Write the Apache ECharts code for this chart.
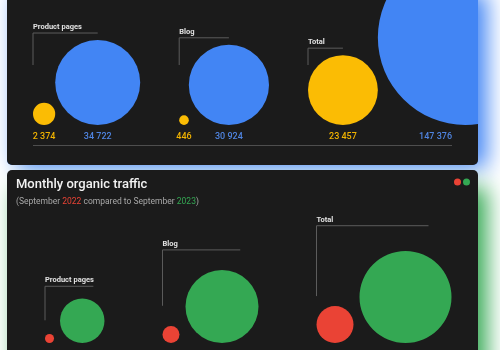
<!DOCTYPE html>
<html><head><meta charset="utf-8">
<script src="https://cdn.jsdelivr.net/npm/echarts@6/dist/echarts.min.js"></script>
<style>html,body{margin:0;padding:0;background:#fff}#c{width:500px;height:350px}</style>
</head><body><div id="c"></div>
<script>
// ---- data ----
const categories = ['Product pages', 'Blog', 'Total'];
const topYellow = [2374, 446, 23457];
const topBlue = [34722, 30924, 147376];
const traffic2022 = [390, 1390, 6580];
const traffic2023 = [9520, 25640, 40700];
const yearLabels = ['September 2022', 'September 2023'];

// ---- layout constants ----
const W = 471;
const TOP_H = 165, TOP_BASE = 125;
const BOT_H = 180, BOT_BASE = 173;
const K = 0.228;
const rad = v => K * Math.sqrt(v);
const fmt = v => String(v).replace(/\B(?=(\d{3})+(?!\d))/g, ' ');

function layout(a, b, start, inner, outer) {
  const out = []; let x = start;
  for (let i = 0; i < a.length; i++) {
    const ra = rad(a[i]), rb = rad(b[i]);
    const ca = x + ra, cb = x + 2 * ra + inner + rb;
    out.push([x, ca, ra, cb, rb, a[i], b[i], i]);
    x = cb + rb + outer;
  }
  return out;
}
const topL = layout(topYellow, topBlue, 26, 0, 39);
const botL = layout(traffic2022, traffic2023, 38, 6, 58);

const C = { yellow: '#fbbc04', blue: '#4285f4', red: '#ea4335', green: '#34a853' };

function circleSeries(name, color, L, gi, base, which) {
  return {
    type: 'custom', name, xAxisIndex: gi, yAxisIndex: gi, clip: true,
    itemStyle: { color },
    data: L.map(d => which === 0 ? [d[1], d[2], d[5]] : [d[3], d[4], d[6]]),
    renderItem(params, api) {
      const p = api.coord([api.value(0), base]);
      const r = api.size([api.value(1), 0])[0];
      return { type: 'circle', shape: { cx: p[0], cy: p[1] - r, r }, style: { fill: color } };
    }
  };
}

const lineCol = '#5c5c5c';
function labelText(txt, p) {
  return { type: 'text', style: { text: txt, x: p[0], y: p[1] - 2, fill: '#e2e2e2', fontSize: 7.5, fontWeight: 'bold', fontFamily: 'Roboto', align: 'left', verticalAlign: 'bottom' } };
}

const topAnno = {
  type: 'custom', xAxisIndex: 0, yAxisIndex: 0, clip: false, silent: true,
  data: topL,
  renderItem(params, api) {
    const start = api.value(0), ca = api.value(1), ra = api.value(2), cb = api.value(3), rb = api.value(4);
    const i = api.value(7);
    const useA = (TOP_BASE - 2 * rb) < 0;
    const ax = useA ? ca : cb, atop = TOP_BASE - 2 * (useA ? ra : rb);
    const hy = atop - 7, vEnd = TOP_BASE - 60;
    const pts = [[start, vEnd], [start, hy], [ax, hy]].map(q => api.coord(q));
    const ch = [
      { type: 'polyline', shape: { points: pts }, style: { stroke: lineCol, lineWidth: 1, fill: null } },
      labelText(categories[i], pts[1])
    ];
    const lineEnd = W - 26;
    const pa = api.coord([ca, TOP_BASE + 12]);
    ch.push({ type: 'text', style: { text: fmt(api.value(5)), x: pa[0], y: pa[1], fill: '#f1b300', fontSize: 9, fontWeight: 500, fontFamily: 'Roboto', align: 'center', verticalAlign: 'middle' } });
    const clampB = cb > lineEnd - 20;
    const pb = api.coord([clampB ? lineEnd : cb, TOP_BASE + 12]);
    ch.push({ type: 'text', style: { text: fmt(api.value(6)), x: pb[0], y: pb[1], fill: '#4f84e0', fontSize: 9, fontWeight: 500, fontFamily: 'Roboto', align: clampB ? 'right' : 'center', verticalAlign: 'middle' } });
    if (i === 0) {
      const l0 = api.coord([26, TOP_BASE + 20]), l1 = api.coord([lineEnd, TOP_BASE + 20]);
      ch.push({ type: 'line', shape: { x1: l0[0], y1: l0[1] + 0.5, x2: l1[0], y2: l1[1] + 0.5 }, style: { stroke: '#4e4e4e', lineWidth: 1 } });
    }
    return { type: 'group', children: ch };
  }
};

const botAnno = {
  type: 'custom', xAxisIndex: 1, yAxisIndex: 1, clip: false, silent: true,
  data: botL,
  renderItem(params, api) {
    const start = api.value(0), cb = api.value(3), rb = api.value(4);
    const i = api.value(7);
    const hy = (BOT_BASE - 2 * rb) - 0.55 * rb;
    const vEnd = hy + 0.6 * (BOT_BASE - hy);
    const pts = [[start, vEnd], [start, hy], [cb + rb / 2, hy]].map(q => api.coord(q));
    return { type: 'group', children: [
      { type: 'polyline', shape: { points: pts }, style: { stroke: lineCol, lineWidth: 1, fill: null } },
      labelText(categories[i], pts[1])
    ] };
  }
};

const chart = echarts.init(document.getElementById('c'), null, { renderer: 'canvas' });
chart.setOption({
  animation: false,
  backgroundColor: '#ffffff',
  graphic: [
    // glows
    { type: 'rect', z: 0, shape: { x: 7, y: -10, width: W, height: TOP_H + 10, r: 5 },
      style: { fill: '#4285f4', shadowColor: 'rgba(66,133,244,1)', shadowBlur: 22, shadowOffsetX: 9, shadowOffsetY: 3 } },
    { type: 'rect', z: 0, shape: { x: 7, y: 187, width: W, height: 200, r: 5 },
      style: { fill: '#34a853', shadowColor: 'rgba(52,168,83,1)', shadowBlur: 22, shadowOffsetX: 9, shadowOffsetY: 0 } },
    // panels
    { type: 'rect', z: 1, shape: { x: 7, y: -10, width: W, height: TOP_H + 10, r: 5 }, style: { fill: '#1b1b1b' } },
    { type: 'rect', z: 1, shape: { x: 7, y: 170, width: W, height: 200, r: 5 }, style: { fill: '#1b1b1b' } }
  ],
  title: [
    { text: 'Monthly organic traffic', left: 16, top: 178, padding: 0,
      textStyle: { color: '#f2f2f2', fontSize: 13, fontWeight: 500, fontFamily: 'Roboto' } },
    { text: '(September {r|2022} compared to September {g|2023})', left: 16, top: 197.5, padding: 0,
      textStyle: { color: '#a8a8a8', fontSize: 8.5, fontWeight: 'normal', fontFamily: 'Roboto',
        rich: { r: { color: C.red, fontSize: 8.5, fontFamily: 'Roboto' }, g: { color: C.green, fontSize: 8.5, fontFamily: 'Roboto' } } } }
  ],
  legend: { data: yearLabels, right: 30, top: 178.5, padding: 0, itemWidth: 7, itemHeight: 7, itemGap: 2,
    icon: 'circle', formatter: () => '', textStyle: { fontSize: 1 } },
  grid: [
    { left: 7, top: 0, width: W, height: TOP_H },
    { left: 7, top: 170, width: W, height: BOT_H }
  ],
  xAxis: [
    { gridIndex: 0, type: 'value', min: 0, max: W, show: false },
    { gridIndex: 1, type: 'value', min: 0, max: W, show: false }
  ],
  yAxis: [
    { gridIndex: 0, type: 'value', min: 0, max: TOP_H, inverse: true, show: false },
    { gridIndex: 1, type: 'value', min: 0, max: BOT_H, inverse: true, show: false }
  ],
  series: [
    circleSeries('Series A', C.yellow, topL, 0, TOP_BASE, 0),
    circleSeries('Series B', C.blue, topL, 0, TOP_BASE, 1),
    circleSeries(yearLabels[0], C.red, botL, 1, BOT_BASE, 0),
    circleSeries(yearLabels[1], C.green, botL, 1, BOT_BASE, 1),
    topAnno, botAnno
  ]
});
</script></body></html>
